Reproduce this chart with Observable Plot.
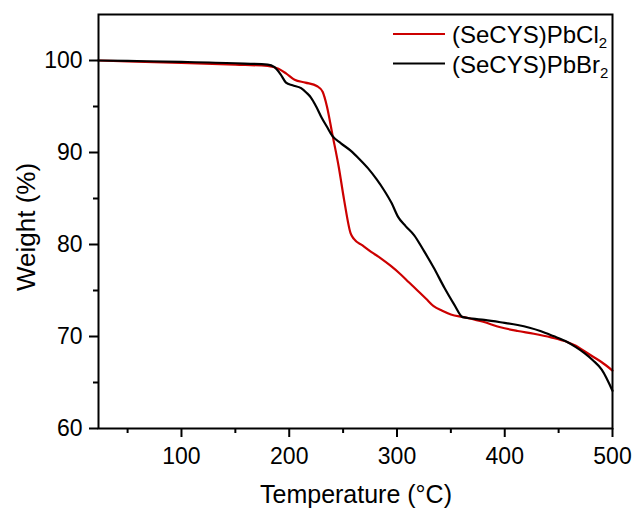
<!DOCTYPE html>
<html>
<head>
<meta charset="utf-8">
<script src="https://cdn.jsdelivr.net/npm/d3@7"></script>
<script src="https://cdn.jsdelivr.net/npm/@observablehq/plot@0.6"></script>
<style>
  html, body { margin: 0; padding: 0; background: #fff; }
  svg { font-family: "Liberation Sans", Arial, sans-serif; }
</style>
</head>
<body>
<div id="chart"></div>
<script>
// ---- data ----
const seriesNames = ["(SeCYS)PbCl", "(SeCYS)PbBr"];
const seriesColors = ["#cc0000", "#000000"];

const clTemp = [23, 50, 100, 150, 180, 190, 197, 205, 215, 226, 231, 235, 240, 246, 251, 257, 260, 268, 276, 285, 294, 303, 311, 319, 327, 334, 342, 350, 362, 380, 396, 412, 427, 443, 458, 466, 474, 482, 490, 500];
const clWeight = [100, 99.9, 99.75, 99.55, 99.4, 99.1, 98.6, 97.9, 97.6, 97.2, 96.6, 95.0, 92.0, 88.4, 84.8, 81.2, 80.6, 79.9, 79.2, 78.5, 77.7, 76.8, 75.9, 75.0, 74.1, 73.3, 72.8, 72.4, 72.1, 71.6, 71.0, 70.6, 70.3, 69.9, 69.4, 69.0, 68.4, 67.8, 67.2, 66.3];

const brTemp = [23, 50, 100, 150, 180, 186, 192, 197, 203, 211, 216, 220, 225, 230, 235, 240, 248, 257, 265, 273, 281, 288, 295, 301, 308, 316, 325, 334, 344, 353, 361, 370, 381, 396, 412, 423, 433, 445, 458, 466, 474, 482, 490, 500];
const brWeight = [100, 99.95, 99.85, 99.7, 99.55, 99.3, 98.5, 97.6, 97.3, 97.0, 96.5, 96.0, 95.0, 93.8, 92.8, 91.8, 91.0, 90.2, 89.3, 88.3, 87.1, 85.9, 84.5, 83.0, 82.0, 81.0, 79.3, 77.5, 75.3, 73.5, 72.1, 71.95, 71.8, 71.55, 71.25, 70.95, 70.6, 70.05, 69.4, 68.85, 68.2, 67.4, 66.4, 64.1];

const xTicks = [100, 200, 300, 400, 500];
const xMinorTicks = [50, 150, 250, 350, 450];
const yTicks = [60, 70, 80, 90, 100];
const yMinorTicks = [65, 75, 85, 95];

const xLabel = "Temperature (°C)";
const yLabel = "Weight (%)";

// ---- build tables ----
const cl = clTemp.map((t, i) => ({t, w: clWeight[i]}));
const br = brTemp.map((t, i) => ({t, w: brWeight[i]}));

const chart = Plot.plot({
  width: 634,
  height: 510,
  marginLeft: 98,
  marginRight: 22,
  marginTop: 14,
  marginBottom: 82,
  style: {fontFamily: '"Liberation Sans", Arial, sans-serif', background: "#fff", overflow: "visible"},
  x: {domain: [23, 500]},
  y: {domain: [60, 105]},
  marks: [
    Plot.line(cl, {x: "t", y: "w", stroke: seriesColors[0], strokeWidth: 2.2, curve: "monotone-x"}),
    Plot.line(br, {x: "t", y: "w", stroke: seriesColors[1], strokeWidth: 2.2, curve: "monotone-x"}),
    Plot.frame({stroke: "#000", strokeWidth: 2}),
    Plot.axisX({ticks: xTicks, tickSize: 9, tickPadding: 10, fontSize: 23, strokeWidth: 2, label: null, tickFormat: d => String(d)}),
    Plot.axisX({ticks: xMinorTicks, tickSize: 5, strokeWidth: 2, label: null, tickFormat: () => ""}),
    Plot.axisY({ticks: yTicks, tickSize: 9, tickPadding: 7, fontSize: 23, strokeWidth: 2, label: null, tickFormat: d => String(d)}),
    Plot.axisY({ticks: yMinorTicks, tickSize: 5, strokeWidth: 2, label: null, tickFormat: () => ""})
  ]
});

document.getElementById("chart").appendChild(chart);

// ---- axis titles and legend (with subscripts) ----
const svg = d3.select(chart);
svg.append("text")
  .attr("x", 356).attr("y", 503)
  .attr("text-anchor", "middle")
  .attr("font-size", 25)
  .attr("fill", "#000")
  .text(xLabel);
svg.append("text")
  .attr("transform", "translate(35,227) rotate(-90)")
  .attr("text-anchor", "middle")
  .attr("font-size", 26)
  .attr("fill", "#000")
  .text(yLabel);

const leg = svg.append("g");
seriesNames.forEach((name, i) => {
  const cy = 34 + i * 29.5;
  leg.append("line")
    .attr("x1", 393).attr("x2", 445)
    .attr("y1", cy).attr("y2", cy)
    .attr("stroke", seriesColors[i]).attr("stroke-width", 2.2);
  const t = leg.append("text")
    .attr("x", 452).attr("y", cy + 9)
    .attr("text-anchor", "start")
    .attr("font-size", 24)
    .attr("fill", "#000");
  t.append("tspan").text(name);
  t.append("tspan").attr("font-size", 15).attr("dy", 5).text("2");
});
</script>
</body>
</html>
